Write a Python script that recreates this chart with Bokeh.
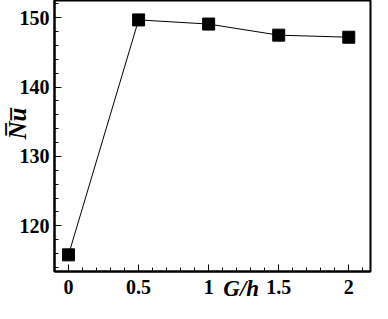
from bokeh.plotting import figure
from bokeh.models import FixedTicker, Range1d
from bokeh.embed import file_html
from bokeh.resources import INLINE

g_over_h = [0, 0.5, 1, 1.5, 2]
nu_mean = [115.8, 149.7, 149.1, 147.5, 147.2]
x_ticks = [0, 0.5, 1, 1.5, 2]
y_ticks = [120, 130, 140, 150]

NB = "\u00a0"

p = figure(width=372, height=303, output_backend="svg", toolbar_location=None,
           x_range=Range1d(-0.1, 2.155), y_range=Range1d(113.4, 152.5),
           min_border_left=50, min_border_right=2, min_border_top=0, min_border_bottom=28)
p.grid.visible = False
p.outline_line_color = "black"
p.outline_line_width = 2
p.outline_line_alpha = 1

p.line(g_over_h, nu_mean, line_color="black", line_width=1)
p.scatter(g_over_h, nu_mean, marker="square", size=12, fill_color="black", line_color="black")

p.xaxis.ticker = FixedTicker(ticks=x_ticks, minor_ticks=[round(-0.1 + 0.1 * i, 2) for i in range(24)])
p.yaxis.ticker = FixedTicker(ticks=y_ticks, minor_ticks=list(range(112, 154, 2)))

for ax in (p.xaxis[0], p.yaxis[0]):
    ax.axis_line_width = 2
    ax.axis_line_color = "black"
    ax.major_tick_in = 7
    ax.major_tick_out = 0
    ax.minor_tick_in = 4
    ax.minor_tick_out = 0
    ax.major_tick_line_color = "black"
    ax.minor_tick_line_color = "black"
    ax.major_label_text_font = "Liberation Serif"
    ax.major_label_text_font_style = "bold"
    ax.major_label_text_font_size = "20px"
    ax.major_label_text_color = "black"
    ax.axis_label_text_font = "Liberation Serif"
    ax.axis_label_text_font_style = "bold italic"
    ax.axis_label_text_color = "black"

p.xaxis.axis_label = NB * 10 + "G/h"
p.xaxis.axis_label_text_font_size = "23px"
p.xaxis.major_label_standoff = 8
p.xaxis.axis_label_standoff = -21
p.yaxis.axis_label = NB * 4 + "N\u0305u\u0305"
p.yaxis.axis_label_text_font_size = "25px"
p.yaxis.major_label_standoff = 5
p.yaxis.axis_label_standoff = -14

open("out.html", "w").write(file_html(p, INLINE))
